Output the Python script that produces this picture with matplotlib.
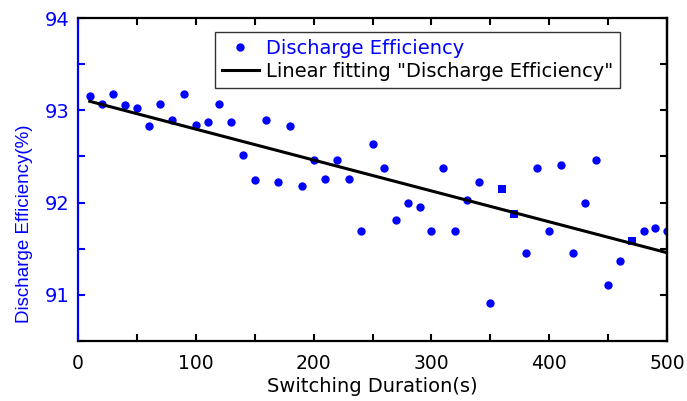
import matplotlib.pyplot as plt
import numpy as np
from matplotlib.ticker import MultipleLocator

plt.rcParams["font.family"] = ["DejaVu Sans"]

# Data
duration = np.arange(10, 501, 10)
efficiency = [
    93.15, 93.07, 93.18, 93.06, 93.03, 92.83, 93.07, 92.90, 93.18, 92.84,
    92.87, 93.07, 92.87, 92.52, 92.25, 92.90, 92.22, 92.83, 92.18, 92.46,
    92.26, 92.46, 92.26, 91.69, 92.64, 92.37, 91.81, 92.00, 91.95, 91.69,
    92.37, 91.69, 92.03, 92.22, 90.91, 92.15, 91.88, 91.45, 92.37, 91.69,
    92.41, 91.45, 92.00, 92.46, 91.11, 91.37, 91.58, 91.69, 91.73, 91.69,
]
square_points = [360, 370, 470]  # these show up as square markers

efficiency = np.array(efficiency)
is_square = np.isin(duration, square_points)

# Linear fit
slope, intercept = np.polyfit(duration, efficiency, 1)
fit_x = np.array([duration.min(), duration.max()])
fit_y = slope * fit_x + intercept

blue = "#0000ff"

fig = plt.figure(figsize=(6.87, 4.01), dpi=100)
ax = fig.add_axes([0.1135, 0.1496, 0.8575, 0.8054])

ax.plot(duration[~is_square], efficiency[~is_square], "o", color=blue,
        ms=6, mew=0, label="Discharge Efficiency")
ax.plot(duration[is_square], efficiency[is_square], "s", color=blue,
        ms=5.5, mew=0)
ax.plot(fit_x, fit_y, "-", color="black", lw=2.2,
        label='Linear fitting "Discharge Efficiency"')

ax.set_xlim(0, 500)
ax.set_ylim(90.5, 94)
ax.xaxis.set_major_locator(MultipleLocator(100))
ax.xaxis.set_minor_locator(MultipleLocator(50))
ax.yaxis.set_major_locator(MultipleLocator(1))
ax.yaxis.set_minor_locator(MultipleLocator(0.5))

for s in ax.spines.values():
    s.set_linewidth(1.6)
ax.spines["left"].set_color(blue)

ax.tick_params(which="both", direction="in", top=True, right=False,
               length=5, width=1.5)
ax.tick_params(axis="x", labelsize=13.5, pad=9)
ax.tick_params(axis="y", which="both", color=blue, labelcolor=blue,
               labelsize=14, pad=6)

# black ticks on the right side
ax2 = ax.twinx()
ax2.set_ylim(ax.get_ylim())
ax2.yaxis.set_major_locator(MultipleLocator(1))
ax2.yaxis.set_minor_locator(MultipleLocator(0.5))
ax2.tick_params(which="both", direction="in", length=5, width=1.5,
                labelright=False)
for name, s in ax2.spines.items():
    s.set_visible(name == "right")
    s.set_linewidth(1.6)

ax.set_xlabel("Switching Duration(s)", fontsize=14, labelpad=3)
ax.set_ylabel("Discharge Efficiency(%)", fontsize=13.5, color=blue,
              family="Liberation Sans")
ax.yaxis.set_label_coords(-0.076, 0.362)

leg = ax.legend(loc="upper left", bbox_to_anchor=(0.2326, 0.9567),
                fontsize=14, frameon=True, fancybox=False, borderpad=0.35,
                handlelength=1.9, handletextpad=0.35, labelspacing=0.2,
                borderaxespad=0)
leg.get_frame().set_edgecolor("black")
leg.get_frame().set_linewidth(1.0)
leg.get_texts()[0].set_color(blue)

fig.savefig("out.png", dpi=100)
